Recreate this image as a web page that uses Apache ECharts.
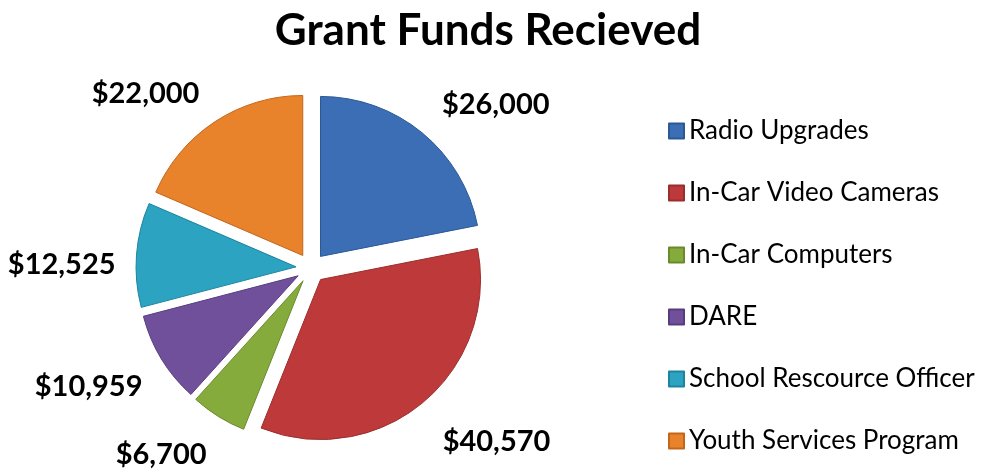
<!DOCTYPE html>
<html>
<head>
<meta charset="utf-8">
<script src="https://cdn.jsdelivr.net/npm/echarts@6/dist/echarts.min.js"></script>
<style>
  html, body { margin: 0; padding: 0; background: #fff; }
  #main { width: 987px; height: 469px; }
</style>
</head>
<body>
<div id="main"></div>
<script>
// 项目名称
var programs = ['Radio Upgrades', 'In-Car Video Cameras', 'In-Car Computers', 'DARE', 'School Rescource Officer', 'Youth Services Program']
// 金额
var amounts = [26000, 40570, 6700, 10959, 12525, 22000]
// 颜色
var colors = ['#3b6eb4', '#be3a3a', '#86ab3d', '#70509b', '#2ba3c1', '#e8822b']
var borders = ['#2c5894', '#9a2d2d', '#6a8a2c', '#573d7d', '#1d839e', '#c2661b']
// 标签微调
var labelShift = [[-3, -7], [-3, 17], [8, 14], [10, 13], [12, 12], [5, -5]]

var myChart = echarts.init(document.getElementById('main'))

let list = []
programs.forEach((item, i) => {
    list.push({
        name: item,
        value: amounts[i],
        selected: true,
        itemStyle: {
            color: colors[i],
            borderColor: borders[i],
            borderWidth: 1
        }
    })
})

let option = {
    title: {
        text: 'Grant Funds Recieved',
        left: 483,
        top: 4,
        textAlign: 'center',
        textStyle: {
            fontFamily: 'Lato',
            fontWeight: 'bold',
            fontSize: 44,
            color: '#000'
        }
    },
    legend: {
        orient: 'vertical',
        left: 663,
        top: 113,
        itemWidth: 15,
        itemHeight: 15,
        itemGap: 36,
        icon: 'rect',
        textStyle: {
            fontFamily: 'Lato',
            fontSize: 26,
            color: '#000'
        },
        data: programs
    },
    series: [
        {
            type: 'pie',
            center: [311, 268],
            radius: [0, 160],
            startAngle: 90,
            clockwise: true,
            selectedMode: 'multiple',
            selectedOffset: 15,
            label: {
                show: true,
                position: 'outside',
                formatter: function (p) {
                    return '$' + p.value.toLocaleString('en-US')
                },
                fontFamily: 'Lato',
                fontWeight: 'bold',
                fontSize: 29,
                color: '#000'
            },
            labelLine: {
                show: false,
                length: 28,
                length2: 0
            },
            labelLayout: function (p) {
                return { dx: labelShift[p.dataIndex][0], dy: labelShift[p.dataIndex][1] }
            },
            emphasis: { disabled: true },
            data: list
        }
    ]
}
myChart.setOption(option)
</script>
</body>
</html>
